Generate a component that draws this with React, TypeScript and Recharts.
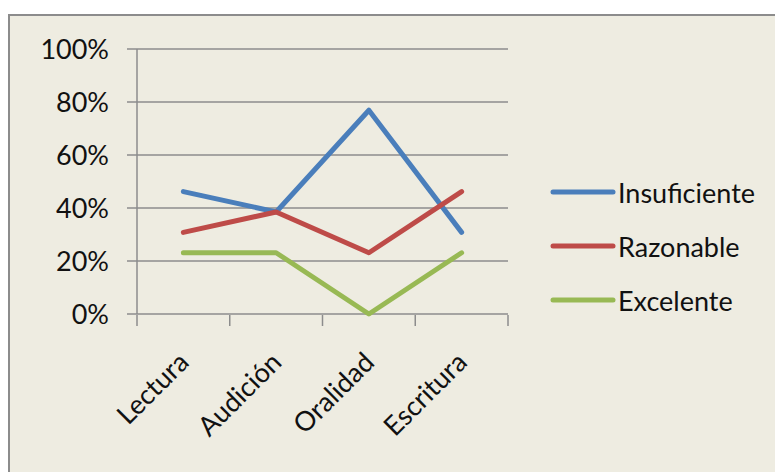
import { CartesianGrid, Legend, Line, LineChart, XAxis, YAxis } from "recharts";

const categories = ["Lectura", "Audición", "Oralidad", "Escritura"];
const insuficiente = [46.2, 38.5, 76.9, 30.8];
const razonable = [30.8, 38.5, 23.1, 46.2];
const excelente = [23.1, 23.1, 0, 23.1];
const yTicks = [0, 20, 40, 60, 80, 100];
const edgeTicks = [0, 1, 2, 3, 4];

const series = [
  { name: "Insuficiente", color: "#4A7EBB", values: insuficiente },
  { name: "Razonable", color: "#BE4B48", values: razonable },
  { name: "Excelente", color: "#98B954", values: excelente },
];

const data = categories.map((c, i) => {
  const row: any = { name: c };
  series.forEach((s) => (row[s.name] = s.values[i]));
  return row;
});

const FONT = "Lato, 'Open Sans', sans-serif";
const FONT_SIZE = 27;
const GRID = "#8c8c8c";

// rotated category label, anchored at its end like the original
function CategoryTick({ x, y, payload }: any) {
  return (
    <g transform={`translate(${x + 7},${y + 50})`}>
      <text textAnchor="end" transform="rotate(-45)" fill="#111" fontSize={FONT_SIZE} fontFamily={FONT}>
        {payload.value}
      </text>
    </g>
  );
}

function LegendBox({ payload }: any) {
  const order = series.map((s) => s.name);
  const items = [...(payload || [])].sort((a: any, b: any) => order.indexOf(a.value) - order.indexOf(b.value));
  return (
    <div style={{ fontFamily: FONT, fontSize: FONT_SIZE, color: "#111" }}>
      {items.map((p: any) => (
        <div key={p.value} style={{ display: "flex", alignItems: "center", height: 54 }}>
          <svg width={66} height={10} style={{ marginRight: 2 }}>
            <line x1={3} y1={5} x2={63} y2={5} stroke={p.color} strokeWidth={5} strokeLinecap="round" />
          </svg>
          <span>{p.value}</span>
        </div>
      ))}
    </div>
  );
}

export default function App() {
  return (
    <div style={{ paddingTop: 6 }}>
      <div
        style={{
          width: 773,
          height: 456,
          background: "#EEECE1",
          borderLeft: `2px solid ${GRID}`,
          borderTop: `2px solid ${GRID}`,
        }}
      >
        <LineChart width={773} height={456} data={data} margin={{ top: 33, right: 275, bottom: 156, left: 0 }}>
          <CartesianGrid vertical={false} stroke={GRID} strokeWidth={1.5} />
          {/* tick marks between categories */}
          <XAxis
            xAxisId="edges"
            dataKey="edge"
            type="number"
            domain={[0, 4]}
            ticks={edgeTicks}
            allowDataOverflow
            tickFormatter={() => ""}
            tickSize={11}
            height={1}
            axisLine={false}
            stroke={GRID}
            tickLine={{ stroke: GRID, strokeWidth: 1.5 }}
          />
          <XAxis
            xAxisId="cat"
            dataKey="name"
            scale="band"
            height={1}
            interval={0}
            tickLine={false}
            axisLine={false}
            tickSize={0}
            tickMargin={0}
            tick={<CategoryTick />}
          />
          <YAxis
            width={127}
            domain={[0, 100]}
            ticks={yTicks}
            tickFormatter={(v) => `${v}%`}
            tickSize={10}
            tickMargin={18}
            axisLine={{ stroke: GRID, strokeWidth: 1.5 }}
            tickLine={{ stroke: GRID, strokeWidth: 1.5 }}
            tick={{ fill: "#111", fontSize: FONT_SIZE, fontFamily: FONT }}
          />
          <Legend
            layout="vertical"
            align="center"
            verticalAlign="middle"
            wrapperStyle={{ left: 540, top: 149, width: 235 }}
            content={<LegendBox />}
          />
          {series.map((s) => (
            <Line
              key={s.name}
              xAxisId="cat"
              dataKey={s.name}
              name={s.name}
              stroke={s.color}
              strokeWidth={5}
              strokeLinecap="round"
              strokeLinejoin="round"
              dot={false}
              activeDot={false}
              isAnimationActive={false}
            />
          ))}
        </LineChart>
      </div>
    </div>
  );
}
